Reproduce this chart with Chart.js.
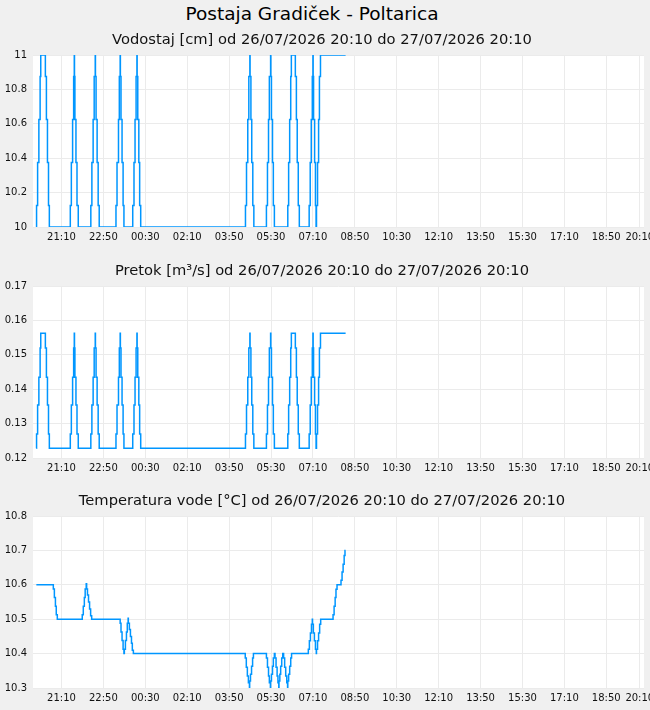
<!DOCTYPE html>
<html>
<head>
<meta charset="utf-8">
<script src="https://cdn.jsdelivr.net/npm/chart.js@4"></script>
<style>
  body { margin: 0; background: #f0f0f0; overflow: hidden; font-family: "DejaVu Sans", sans-serif; }
  #title { position: absolute; left: 0; top: 0; width: 624px; height: 28px; line-height: 28px; text-align: center; font-size: 18.5px; color: #000; }
  canvas { position: absolute; left: 0; }
</style>
</head>
<body>
<div id="title">Postaja Gradiček - Poltarica</div>
<canvas id="levelChart" width="650" height="230" style="top:28px"></canvas>
<canvas id="flowChart" width="650" height="230" style="top:259px"></canvas>
<canvas id="tempChart" width="650" height="230" style="top:489px"></canvas>
<script>
// time is in minutes after 26/07/2026 20:10
const xTicks = [60, 160, 260, 360, 460, 560, 660, 760, 860, 960, 1060, 1160, 1260, 1360, 1440];

// Vodostaj / Pretok share the same timestamps
const levelTimes = [
    0, 0.5, 3, 6, 9, 10.5, 21.5, 24, 26.5, 29, 31,
    81, 83.5, 86.5, 89, 90.5, 91, 92, 94.5, 97, 100,
    130, 132.5, 135.5, 138, 140.5, 141, 142.5, 145, 147.5, 150,
    190, 192.5, 196, 198, 200, 200.5, 202, 204.5, 207, 209,
    230, 233, 235.5, 238, 240, 240.5, 242, 244.5, 246.5, 249,
    499, 501.5, 504.5, 507, 509.5, 510, 512, 514, 516.5, 519,
    549, 551.5, 554, 556, 559, 559.5, 561, 563.5, 565.5, 568,
    600, 602, 604.5, 607, 608.5, 618, 620.5, 622.5, 625, 627.5,
    651, 653.5, 656, 658.5, 660, 660.5, 661.5, 664, 666, 667.5,
    668.5, 671, 673.5, 675.5, 678, 738
];
const levelValues = [
    10, 10.125, 10.375, 10.625, 10.875, 11, 10.875, 10.625, 10.375, 10.125, 10,
    10.125, 10.375, 10.625, 10.875, 11, 10.875, 10.625, 10.375, 10.125, 10,
    10.125, 10.375, 10.625, 10.875, 11, 10.875, 10.625, 10.375, 10.125, 10,
    10.125, 10.375, 10.625, 10.875, 11, 10.875, 10.625, 10.375, 10.125, 10,
    10.125, 10.375, 10.625, 10.875, 11, 10.875, 10.625, 10.375, 10.125, 10,
    10.125, 10.375, 10.625, 10.875, 11, 10.875, 10.625, 10.375, 10.125, 10,
    10.125, 10.375, 10.625, 10.875, 11, 10.875, 10.625, 10.375, 10.125, 10,
    10.125, 10.375, 10.625, 10.875, 11, 10.875, 10.625, 10.375, 10.125, 10,
    10.125, 10.375, 10.625, 10.875, 11, 10.875, 10.625, 10.375, 10.125, 10,
    10.125, 10.375, 10.625, 10.875, 11, 11
];
const flowValues = [
    0.1228, 0.127, 0.1354, 0.1435, 0.152, 0.1563, 0.152, 0.1435, 0.1354, 0.127, 0.1228,
    0.127, 0.1354, 0.1435, 0.152, 0.1563, 0.152, 0.1435, 0.1354, 0.127, 0.1228,
    0.127, 0.1354, 0.1435, 0.152, 0.1563, 0.152, 0.1435, 0.1354, 0.127, 0.1228,
    0.127, 0.1354, 0.1435, 0.152, 0.1563, 0.152, 0.1435, 0.1354, 0.127, 0.1228,
    0.127, 0.1354, 0.1435, 0.152, 0.1563, 0.152, 0.1435, 0.1354, 0.127, 0.1228,
    0.127, 0.1354, 0.1435, 0.152, 0.1563, 0.152, 0.1435, 0.1354, 0.127, 0.1228,
    0.127, 0.1354, 0.1435, 0.152, 0.1563, 0.152, 0.1435, 0.1354, 0.127, 0.1228,
    0.127, 0.1354, 0.1435, 0.152, 0.1563, 0.152, 0.1435, 0.1354, 0.127, 0.1228,
    0.127, 0.1354, 0.1435, 0.152, 0.1563, 0.152, 0.1435, 0.1354, 0.127, 0.1228,
    0.127, 0.1354, 0.1435, 0.152, 0.1563, 0.1563
];

// Temperatura vode
const tempTimes = [
    0, 40.5, 43, 45.5, 47.5, 50,
    109.5, 112, 114.5, 116.5, 119, 120, 122, 124.5, 127, 129.5, 132,
    200, 202, 204.5, 207, 209, 210, 212.5, 215, 217, 219, 219.5, 222, 224.5, 227, 229, 231.5,
    498.5, 501, 503.5, 506, 508.5, 509, 511, 513.5, 516, 518,
    549, 551.5, 554, 556, 558.5, 559, 561, 563.5, 565.5, 568,
    569.5, 572, 574.5, 576.5, 578.5, 579, 581, 583, 585.5, 588,
    590, 592.5, 595, 597.5, 599.5, 600, 602, 604.5, 607, 609,
    649, 651.5, 654, 656.5, 658.5, 659, 661, 663.5, 666, 668,
    668.5, 671, 673.5, 676, 678.5,
    708, 710.5, 713, 715, 717.5, 727, 729.5, 732, 734.5, 736.5, 738
];
const tempValues = [
    10.6, 10.588, 10.563, 10.538, 10.513, 10.5,
    10.513, 10.538, 10.563, 10.588, 10.603, 10.588, 10.57, 10.55, 10.53, 10.51, 10.5,
    10.488, 10.463, 10.438, 10.413, 10.4, 10.413, 10.438, 10.463, 10.488, 10.503, 10.488, 10.47, 10.45, 10.43, 10.41, 10.4,
    10.387, 10.36, 10.335, 10.315, 10.3, 10.32, 10.34, 10.363, 10.387, 10.4,
    10.387, 10.36, 10.335, 10.315, 10.3, 10.32, 10.34, 10.363, 10.387, 10.4,
    10.387, 10.36, 10.335, 10.315, 10.3, 10.32, 10.34, 10.363, 10.387, 10.4,
    10.387, 10.36, 10.335, 10.315, 10.3, 10.32, 10.34, 10.363, 10.387, 10.4,
    10.413, 10.437, 10.46, 10.485, 10.5, 10.485, 10.46, 10.437, 10.413, 10.4,
    10.413, 10.437, 10.46, 10.485, 10.5,
    10.513, 10.538, 10.563, 10.587, 10.6, 10.613, 10.637, 10.66, 10.685, 10.7, 10.7
];

const lineColor = '#0096ff';
const gridColor = '#ebebeb';
const tickFont = { family: 'DejaVu Sans', size: 10 };

function timeLabel(v) {
    const total = (20 * 60 + 10 + v) % 1440;
    const h = Math.floor(total / 60);
    const m = total % 60;
    return String(h).padStart(2, '0') + ':' + String(m).padStart(2, '0');
}

// white plot area
const plotBackground = {
    id: 'plotBackground',
    beforeDraw(chart) {
        const { ctx, chartArea } = chart;
        ctx.save();
        ctx.fillStyle = '#ffffff';
        ctx.fillRect(chartArea.left, chartArea.top, chartArea.right - chartArea.left, chartArea.bottom - chartArea.top);
        ctx.restore();
    }
};

function makeChart(id, title, times, values, yMin, yMax, yStep) {
    const ctx = document.getElementById(id).getContext('2d');
    return new Chart(ctx, {
        type: 'line',
        data: {
            datasets: [{
                data: times.map((t, i) => ({ x: t, y: values[i] })),
                stepped: true,
                borderColor: lineColor,
                borderWidth: 1.5,
                pointRadius: 0,
                fill: false
            }]
        },
        options: {
            responsive: false,
            animation: false,
            devicePixelRatio: 1,
            layout: { padding: { left: 0, right: 6, top: 0, bottom: 0 } },
            plugins: {
                legend: { display: false },
                tooltip: { enabled: false },
                title: {
                    display: true,
                    text: title,
                    color: '#111',
                    font: { family: 'DejaVu Sans', size: 14.7, weight: 'normal', lineHeight: 1.2245 },
                    padding: { top: 3, bottom: 6 }
                }
            },
            scales: {
                x: {
                    type: 'linear',
                    min: -8,
                    max: 1450,
                    afterBuildTicks: axis => { axis.ticks = xTicks.map(v => ({ value: v })); },
                    afterFit: s => { s.height = 31; s.paddingLeft = 0; s.paddingRight = 0; },
                    ticks: {
                        callback: v => timeLabel(v),
                        autoSkip: false,
                        maxRotation: 0,
                        font: tickFont,
                        color: '#111',
                        padding: 4
                    },
                    grid: { color: gridColor, drawTicks: false },
                    border: { display: false }
                },
                y: {
                    min: yMin,
                    max: yMax,
                    afterFit: s => { s.width = 33; },
                    ticks: {
                        stepSize: yStep,
                        callback: v => String(Number(v.toFixed(3))),
                        font: tickFont,
                        color: '#111',
                        padding: 6
                    },
                    grid: { color: gridColor, drawTicks: false },
                    border: { display: false }
                }
            }
        },
        plugins: [plotBackground]
    });
}

makeChart('levelChart', 'Vodostaj [cm] od 26/07/2026 20:10 do 27/07/2026 20:10', levelTimes, levelValues, 10, 11, 0.2);
makeChart('flowChart', 'Pretok [m³/s] od 26/07/2026 20:10 do 27/07/2026 20:10', levelTimes, flowValues, 0.12, 0.17, 0.01);
makeChart('tempChart', 'Temperatura vode [°C] od 26/07/2026 20:10 do 27/07/2026 20:10', tempTimes, tempValues, 10.3, 10.8, 0.1);
</script>
</body>
</html>
